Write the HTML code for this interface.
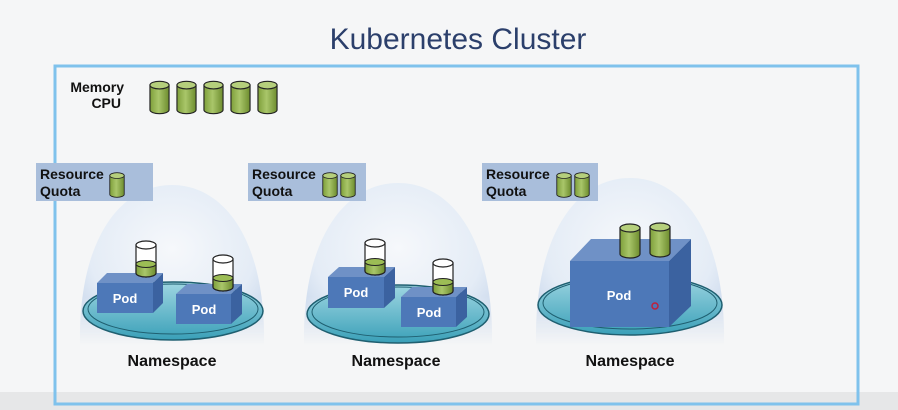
<!DOCTYPE html>
<html><head><meta charset="utf-8"><style>
html,body{margin:0;padding:0;background:#f5f6f7;}
svg{display:block;}
text{font-family:"Liberation Sans",sans-serif;}
</style></head><body>
<svg width="898" height="410" viewBox="0 0 898 410" xmlns="http://www.w3.org/2000/svg">
<defs>
<linearGradient id="g" x1="0" x2="1"><stop offset="0" stop-color="#7e9f3a"/><stop offset="0.45" stop-color="#a9c66a"/><stop offset="1" stop-color="#6d8c2e"/></linearGradient>
<radialGradient id="dome" cx="0.5" cy="0.4" r="0.6"><stop offset="0" stop-color="#f6f8fb"/><stop offset="0.75" stop-color="#e4ecf6"/><stop offset="1" stop-color="#cfdcee"/></radialGradient>
<linearGradient id="fade" x1="0" y1="0" x2="0" y2="1"><stop offset="0" stop-color="#fff"/><stop offset="0.7" stop-color="#fff"/><stop offset="1" stop-color="#000"/></linearGradient>
<mask id="m" maskContentUnits="objectBoundingBox"><rect width="1" height="1" fill="url(#fade)"/></mask>
<linearGradient id="plat" x1="0" y1="0" x2="0" y2="1"><stop offset="0" stop-color="#9fd6e2"/><stop offset="1" stop-color="#3aa0b8"/></linearGradient>
<symbol id="cyl" viewBox="0 0 22 36" overflow="visible">
<path d="M1,5 V31 A10,4 0 0 0 21,31 V5 Z" fill="url(#g)" stroke="#222" stroke-width="1.2"/>
<ellipse cx="11" cy="5" rx="10" ry="4" fill="#b5cf7c" stroke="#222" stroke-width="1.2"/>
</symbol>
<symbol id="glass" viewBox="0 0 22 38" overflow="visible">
<path d="M1,5 V33 A10,4 0 0 0 21,33 V5 Z" fill="#fff" stroke="#222" stroke-width="1.2"/>
<path d="M1,24 V33 A10,4 0 0 0 21,33 V24 Z" fill="url(#g)" stroke="#222" stroke-width="1.2"/>
<ellipse cx="11" cy="24" rx="10" ry="3.5" fill="#9cbd55" stroke="#222" stroke-width="1"/>
<ellipse cx="11" cy="5" rx="10" ry="4" fill="#fff" stroke="#222" stroke-width="1.2"/>
</symbol>
</defs>

<rect x="0" y="392" width="898" height="18" fill="#e6e7e8"/>

<text x="458" y="49" font-size="30" fill="#2b3f6b" text-anchor="middle">Kubernetes Cluster</text>

<!-- domes -->
<path d="M80,345 C78,240 120,185 172,185 C224,185 266,240 264,345 Z" fill="url(#dome)" mask="url(#m)"/>
<path d="M304,345 C302,240 344,183 398,183 C452,183 494,240 492,345 Z" fill="url(#dome)" mask="url(#m)"/>
<path d="M536,345 C534,235 576,178 630,178 C684,178 726,235 724,345 Z" fill="url(#dome)" mask="url(#m)"/>

<rect x="55" y="66" width="803" height="338" fill="none" stroke="#7fc2ec" stroke-width="3"/>

<text font-size="14" font-weight="bold" fill="#111" text-anchor="end"><tspan x="124" y="92">Memory</tspan><tspan x="121" y="108">CPU</tspan></text>
<use href="#cyl" x="149" y="80" width="21" height="35"/>
<use href="#cyl" x="176" y="80" width="21" height="35"/>
<use href="#cyl" x="203" y="80" width="21" height="35"/>
<use href="#cyl" x="230" y="80" width="21" height="35"/>
<use href="#cyl" x="257" y="80" width="21" height="35"/>

<!-- quota boxes -->
<rect x="36" y="163" width="117" height="38" fill="#a9bedb"/>
<rect x="248" y="163" width="118" height="38" fill="#a9bedb"/>
<rect x="482" y="163" width="116" height="38" fill="#a9bedb"/>
<text font-size="14" font-weight="bold" fill="#111"><tspan x="40" y="179">Resource</tspan><tspan x="40" y="196">Quota</tspan></text>
<text font-size="14" font-weight="bold" fill="#111"><tspan x="252" y="179">Resource</tspan><tspan x="252" y="196">Quota</tspan></text>
<text font-size="14" font-weight="bold" fill="#111"><tspan x="486" y="179">Resource</tspan><tspan x="486" y="196">Quota</tspan></text>
<use href="#cyl" x="109" y="172" width="16" height="26"/>
<use href="#cyl" x="322" y="172" width="16" height="26"/>
<use href="#cyl" x="340" y="172" width="16" height="26"/>
<use href="#cyl" x="556" y="172" width="16" height="26"/>
<use href="#cyl" x="574" y="172" width="16" height="26"/>

<!-- platforms -->
<g stroke="#1f5f70" stroke-width="1.5">
<ellipse cx="173" cy="311" rx="90" ry="29" fill="url(#plat)"/>
<ellipse cx="173" cy="309" rx="85" ry="25" fill="none" stroke-width="1"/>
<ellipse cx="398" cy="314" rx="91" ry="29" fill="url(#plat)"/>
<ellipse cx="398" cy="312" rx="86" ry="25" fill="none" stroke-width="1"/>
<ellipse cx="630" cy="305" rx="92" ry="30" fill="url(#plat)"/>
<ellipse cx="630" cy="303" rx="87" ry="26" fill="none" stroke-width="1"/>
</g>

<!-- pods ns1 -->
<g>
<polygon points="97,283 107,273 163,273 153,283" fill="#6f91c6"/>
<polygon points="153,283 163,273 163,303 153,313" fill="#3b62a0"/>
<rect x="97" y="283" width="56" height="30" fill="#4d78b8"/>
<text x="125" y="303" font-size="13" font-weight="bold" fill="#fff" text-anchor="middle">Pod</text>
<use href="#glass" x="135" y="240" width="22" height="38"/>
</g>
<g>
<polygon points="176,294 187,284 242,284 231,294" fill="#6f91c6"/>
<polygon points="231,294 242,284 242,314 231,324" fill="#3b62a0"/>
<rect x="176" y="294" width="55" height="30" fill="#4d78b8"/>
<text x="204" y="314" font-size="13" font-weight="bold" fill="#fff" text-anchor="middle">Pod</text>
<use href="#glass" x="212" y="254" width="22" height="38"/>
</g>
<!-- pods ns2 -->
<g>
<polygon points="328,277 339,267 395,267 384,277" fill="#6f91c6"/>
<polygon points="384,277 395,267 395,298 384,308" fill="#3b62a0"/>
<rect x="328" y="277" width="56" height="31" fill="#4d78b8"/>
<text x="356" y="297" font-size="13" font-weight="bold" fill="#fff" text-anchor="middle">Pod</text>
<use href="#glass" x="364" y="238" width="22" height="38"/>
</g>
<g>
<polygon points="401,297 412,287 467,287 456,297" fill="#6f91c6"/>
<polygon points="456,297 467,287 467,317 456,327" fill="#3b62a0"/>
<rect x="401" y="297" width="55" height="30" fill="#4d78b8"/>
<text x="429" y="317" font-size="13" font-weight="bold" fill="#fff" text-anchor="middle">Pod</text>
<use href="#glass" x="432" y="258" width="22" height="38"/>
</g>
<!-- pod ns3 -->
<g>
<polygon points="570,261 591,239 691,239 669,261" fill="#6f91c6"/>
<polygon points="669,261 691,239 691,306 669,327" fill="#3b62a0"/>
<rect x="570" y="261" width="99" height="66" fill="#4d78b8"/>
<text x="619" y="300" font-size="13" font-weight="bold" fill="#fff" text-anchor="middle">Pod</text>
<use href="#cyl" x="619" y="222" width="22" height="38"/>
<use href="#cyl" x="649" y="221" width="22" height="38"/>
<circle cx="655" cy="306" r="3" fill="none" stroke="#c0203a" stroke-width="1.5"/>
</g>

<text x="172" y="366" font-size="16" font-weight="bold" fill="#111" text-anchor="middle">Namespace</text>
<text x="396" y="366" font-size="16" font-weight="bold" fill="#111" text-anchor="middle">Namespace</text>
<text x="630" y="366" font-size="16" font-weight="bold" fill="#111" text-anchor="middle">Namespace</text>
</svg>
</body></html>
